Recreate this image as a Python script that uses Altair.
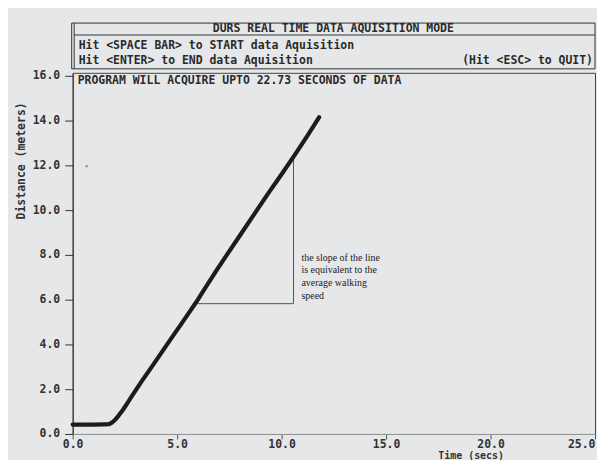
import altair as alt
import pandas as pd

# ---- data ----
time_s = [0, 0.5, 1.0, 1.5, 1.75, 1.9, 2.05, 2.2, 2.4, 2.6, 2.8, 3.3, 3.8, 4.3,
          4.8, 5.3, 5.9, 6.4, 6.9, 7.5, 8.1, 8.7, 9.4, 10.0, 10.6, 11.2, 11.8]
distance_m = [0.42, 0.42, 0.42, 0.43, 0.44, 0.52, 0.65, 0.82, 1.07, 1.35, 1.65,
              2.35, 3.02, 3.7, 4.38, 5.05, 5.87, 6.6, 7.33, 8.17, 9.0, 9.83,
              10.8, 11.6, 12.42, 13.27, 14.15]

stray_t = [0.67]
stray_d = [11.96]

tri_x = [5.9, 10.57]
tri_x2 = [10.57, 10.57]
tri_y = [5.82, 5.82]
tri_y2 = [5.82, 12.35]

note_t = [10.95]
note_d = [8.1]
note_lines = ["the slope of the line", "is equivalent to the", "average walking", "speed"]

x_ticks = [0, 5, 10, 15, 20, 25]
y_ticks = [0, 2, 4, 6, 8, 10, 12, 14, 16]

header_title = "DURS REAL TIME DATA AQUISITION MODE"
header_row2 = "Hit <SPACE BAR> to START data Aquisition"
header_row3 = "Hit <ENTER> to END data Aquisition"
header_row3_right = "(Hit <ESC> to QUIT)"
program_note = "PROGRAM WILL ACQUIRE UPTO 22.73 SECONDS OF DATA"

MONO = "DejaVu Sans Mono"
BG = "#e6e7e9"

df_line = pd.DataFrame({"t": time_s, "d": distance_m})
df_stray = pd.DataFrame({"t": stray_t, "d": stray_d})
df_tri = pd.DataFrame({"x": tri_x, "x2": tri_x2, "y": tri_y, "y2": tri_y2})
df_note = pd.DataFrame({"t": note_t, "d": note_d, "txt": [note_lines]})
one = pd.DataFrame({"a": [0]})

xscale = alt.Scale(domain=[0, 25], nice=False, zero=False)
yscale = alt.Scale(domain=[0, 16.13], nice=False, zero=False)

xaxis = alt.Axis(
    values=x_ticks, format=".1f", grid=False, title="Time (secs)",
    domainColor="#999999", tickColor="#555555", tickSize=5,
    labelPadding=0, labelFlush=False,
    labelAlign={"expr": "datum.value == 25 ? 'right' : 'center'"},
    labelFont=MONO, labelFontWeight="bold", labelFontSize=11.5, labelColor="#333333",
    titleFont=MONO, titleFontWeight="bold", titleFontSize=10, titleColor="#333333",
    titleX=400, titleY=17, titleAnchor="middle", titleAlign="center", titleBaseline="top",
)
yaxis = alt.Axis(
    values=y_ticks, format=".1f", grid=False, title="Distance (meters)",
    domainColor="#333333", tickColor="#333333", tickSize=8, labelPadding=5,
    labelFont=MONO, labelFontWeight="bold", labelFontSize=11.5, labelColor="#333333",
    labelBaseline="middle",
    titleFont=MONO, titleFontWeight="bold", titleFontSize=11.5, titleColor="#333333",
    titleX=-51, titleY=88, titleAngle=-90, titleAlign="center", titleBaseline="middle",
)

line = alt.Chart(df_line).mark_line(
    color="#1c1c1c", strokeWidth=4.2, strokeCap="round", strokeJoin="round"
).encode(
    x=alt.X("t:Q", scale=xscale, axis=xaxis),
    y=alt.Y("d:Q", scale=yscale, axis=yaxis),
)

stray = alt.Chart(df_stray).mark_point(filled=True, color="#888888", size=8).encode(
    x=alt.X("t:Q", scale=xscale), y=alt.Y("d:Q", scale=yscale)
)

tri = alt.Chart(df_tri).mark_rule(color="#555555", strokeWidth=1).encode(
    x=alt.X("x:Q", scale=xscale), x2="x2:Q",
    y=alt.Y("y:Q", scale=yscale), y2="y2:Q",
)

note = alt.Chart(df_note).mark_text(
    align="left", baseline="top", font="Liberation Serif", fontSize=10, lineHeight=13,
    color="#222222"
).encode(x=alt.X("t:Q", scale=xscale), y=alt.Y("d:Q", scale=yscale), text="txt")

box = alt.Chart(one).mark_rect(fillOpacity=0, stroke="#333333", strokeWidth=1).encode(
    x=alt.value(-1), x2=alt.value(525), y=alt.value(-50), y2=alt.value(-4)
)
box_inner = alt.Chart(one).mark_rule(color="#333333", strokeWidth=1).encode(
    x=alt.value(1.5), y=alt.value(-50), y2=alt.value(-4)
)
box_sep = alt.Chart(one).mark_rule(color="#333333", strokeWidth=1).encode(
    x=alt.value(1.5), x2=alt.value(525), y=alt.value(-38)
)

def txt(s, x, y, align="left"):
    return alt.Chart(one).mark_text(
        align=align, baseline="middle", font=MONO, fontWeight="bold", fontSize=11.5,
        color="#2a2a2a"
    ).encode(x=alt.value(x), y=alt.value(y), text=alt.value(s))

t1 = txt(header_title, 262, -44, "center")
t2 = txt(header_row2, 6, -27)
t3 = txt(header_row3, 6, -12)
t4 = txt(header_row3_right, 523, -12, "right")
t5 = txt(program_note, 5, 8)

chart = alt.layer(
    box, box_inner, box_sep, t1, t2, t3, t4, t5, tri, note, stray, line
).properties(
    width=525, height=363,
    padding={"left": 65, "top": 64, "right": 2, "bottom": 25},
    autosize=alt.AutoSizeParams(type="none"),
    background=BG,
).configure_view(stroke="#444444", strokeWidth=1)

chart.save("out.html", embed_options={"renderer": "svg", "actions": False})
